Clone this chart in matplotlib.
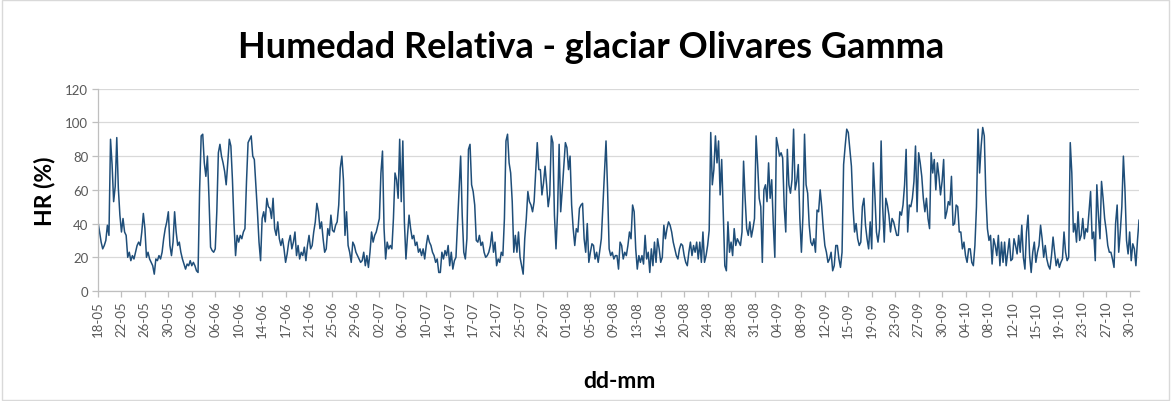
import matplotlib
matplotlib.use("Agg")
import matplotlib.pyplot as plt
import matplotlib.dates as mdates
from matplotlib.patches import Rectangle
import pandas as pd

# Relative humidity (%), one reading every 6 hours starting 18-05 18:00
hr = [
    41, 35, 29, 25, 27, 30, 39, 33, 90, 75, 53, 62, 91, 61, 45, 35, 43, 35, 33, 20,
    23, 18, 21, 19, 23, 27, 29, 27, 35, 46, 37, 20, 23, 19, 17, 15, 10, 19, 18, 21,
    19, 23, 31, 37, 41, 47, 27, 21, 29, 47, 35, 27, 29, 23, 19, 16, 13, 16, 15, 18,
    15, 17, 15, 12, 11, 60, 92, 93, 76, 68, 80, 55,
    26, 24, 23, 25, 47, 82, 87, 80, 76, 71, 63, 76, 90, 86, 66, 40, 21, 33, 29, 33,
    31, 35, 37, 65, 88, 90, 92, 80, 78, 63, 47, 29, 18, 43, 47, 41, 55, 50, 49, 43,
    55, 37, 33, 41, 31, 27, 31, 25, 17, 22, 29, 33, 25, 29, 35, 21, 27, 19, 23, 21,
    26, 18, 27, 33, 25, 27, 35, 41, 52, 47, 37, 41, 31, 23,
    25, 37, 33, 45, 36, 35, 39, 41, 51, 73, 80, 66, 33, 47, 27, 23, 17, 29, 27, 23,
    21, 19, 17, 18, 23, 15, 21, 14, 23, 35, 29, 33, 35, 39, 43, 70, 83, 37, 19, 29,
    25, 27, 25, 43, 70, 66, 55, 90, 53, 89, 41, 19, 33, 45, 37, 31, 33, 27, 29, 23,
    25, 21, 25, 19, 27, 33, 29, 27, 23, 21, 17, 19, 11,
    11, 23, 19, 24, 21, 27, 15, 23, 13, 18, 20, 40, 60, 80, 45, 23, 19, 31, 84, 87,
    63, 59, 51, 30, 29, 33, 27, 29, 23, 20, 21, 23, 27, 35, 23, 29, 15, 19, 17, 23,
    21, 43, 89, 93, 76, 70, 53, 23, 33, 23, 35, 20, 15, 10, 31, 43, 59, 53, 51, 47,
    53, 70, 88, 72, 72, 57, 64, 74, 63, 50, 57, 92, 88, 45,
    25, 47, 87, 47, 60, 74, 88, 85, 72, 80, 51, 37, 27, 37, 35, 49, 51, 52, 31, 23,
    40, 17, 23, 28, 27, 19, 23, 17, 24, 31, 51, 70, 89, 60, 25, 21, 23, 19, 21, 21,
    13, 29, 27, 19, 23, 21, 27, 35, 31, 51, 47, 25, 13, 21, 17, 21, 16, 33, 19, 23,
    11, 25, 15, 29, 17, 31, 25, 17, 20, 39, 31, 37, 41,
    39, 35, 29, 25, 21, 19, 25, 28, 27, 21, 17, 15, 23, 29, 21, 27, 23, 29, 19, 29,
    17, 35, 17, 21, 27, 36, 94, 63, 72, 92, 76, 89, 57, 78, 47, 15, 12, 41, 23, 29,
    21, 37, 27, 31, 29, 27, 35, 77, 55, 37, 33, 41, 32, 37, 43, 92, 75, 55, 50, 17,
    60, 63, 53, 76, 55, 66, 40, 20, 91, 86, 80, 82, 79, 50,
    35, 84, 63, 58, 66, 96, 60, 65, 75, 43, 23, 45, 93, 63, 58, 39, 29, 27, 31, 23,
    48, 47, 60, 50, 37, 27, 23, 17, 19, 23, 12, 15, 27, 27, 19, 14, 23, 75, 86, 96,
    94, 84, 74, 50, 35, 40, 31, 27, 29, 50, 55, 39, 31, 25, 41, 25, 76, 57, 35, 29,
    37, 89, 50, 29, 55, 51, 45, 35, 43, 41, 37, 33, 33, 47,
    45, 51, 63, 84, 35, 51, 50, 55, 65, 86, 47, 82, 76, 68, 55, 47, 55, 43, 37, 82,
    70, 78, 60, 76, 68, 57, 65, 78, 43, 47, 53, 51, 68, 39, 40, 51, 50, 35, 35, 25,
    29, 21, 17, 25, 25, 17, 15, 27, 50, 96, 70, 86, 97, 92, 57, 37, 30, 33, 16, 31,
    27, 21, 33, 15, 29, 17, 29, 15, 23, 31, 18, 19, 31,
    27, 22, 33, 23, 39, 20, 13, 35, 45, 21, 11, 23, 29, 17, 23, 27, 39, 31, 20, 27,
    19, 15, 13, 21, 32, 23, 15, 19, 14, 17, 19, 35, 23, 18, 20, 88, 70, 35, 40, 29,
    47, 30, 33, 43, 31, 37, 35, 47, 59, 31, 35, 18, 63, 45, 31, 65, 55, 43, 36, 27,
    23, 23, 19, 14, 40, 51, 23, 35, 50, 80, 60,
    30, 22, 35, 18, 28, 25, 15, 30, 42,
]

start = "2014-05-18 18:00"
step = "6h"
label_every = 15          # one date label every 15 readings (3.75 days)
y_ticks = [0, 20, 40, 60, 80, 100, 120]

title = "Humedad Relativa - glaciar Olivares Gamma"
xlabel = "dd-mm"
ylabel = "HR (%)"

font = ["Lato", "DejaVu Sans"]
plt.rcParams["font.family"] = font

times = pd.date_range(start=start, periods=len(hr), freq=step)

fig = plt.figure(figsize=(11.71, 4.02), dpi=100)
ax = fig.add_axes([0.0837, 0.2736, 0.9727 - 0.0837, 0.7769 - 0.2736])

ax.plot(times, hr, color="#1f4e79", linewidth=1.1)

ax.set_ylim(0, 120)
ax.set_yticks(y_ticks)
ax.set_xlim(times[0], times[-1])
ax.set_xticks(times[::label_every])
ax.xaxis.set_major_formatter(mdates.DateFormatter("%d-%m"))

ax.grid(axis="y", color="#d9d9d9", linewidth=0.9)
ax.set_axisbelow(True)
for s in ["top", "right"]:
    ax.spines[s].set_visible(False)
for s in ["left", "bottom"]:
    ax.spines[s].set_color("#bfbfbf")
    ax.spines[s].set_linewidth(0.9)

ax.tick_params(axis="y", colors="#bfbfbf", labelcolor="#595959", labelsize=9.5,
               length=4, width=0.9, pad=3)
ax.tick_params(axis="x", colors="#bfbfbf", labelcolor="#595959", labelsize=9.5,
               length=4, width=0.9, pad=3, labelrotation=90)

fig.text(0.505, 0.883, title, ha="center", va="center", fontsize=26,
         fontweight="bold", color="black")
fig.text(0.529, 0.052, xlabel, ha="center", va="center", fontsize=16.5,
         fontweight="bold", color="black")
fig.text(0.038, 0.525, ylabel, ha="center", va="center", rotation=90,
         fontsize=16.5, fontweight="bold", color="black")

fig.patches.append(Rectangle((0.002, 0.003), 0.996, 0.994, transform=fig.transFigure,
                             fill=False, edgecolor="#d9d9d9", linewidth=1.0))

fig.savefig("out.png", dpi=100)
